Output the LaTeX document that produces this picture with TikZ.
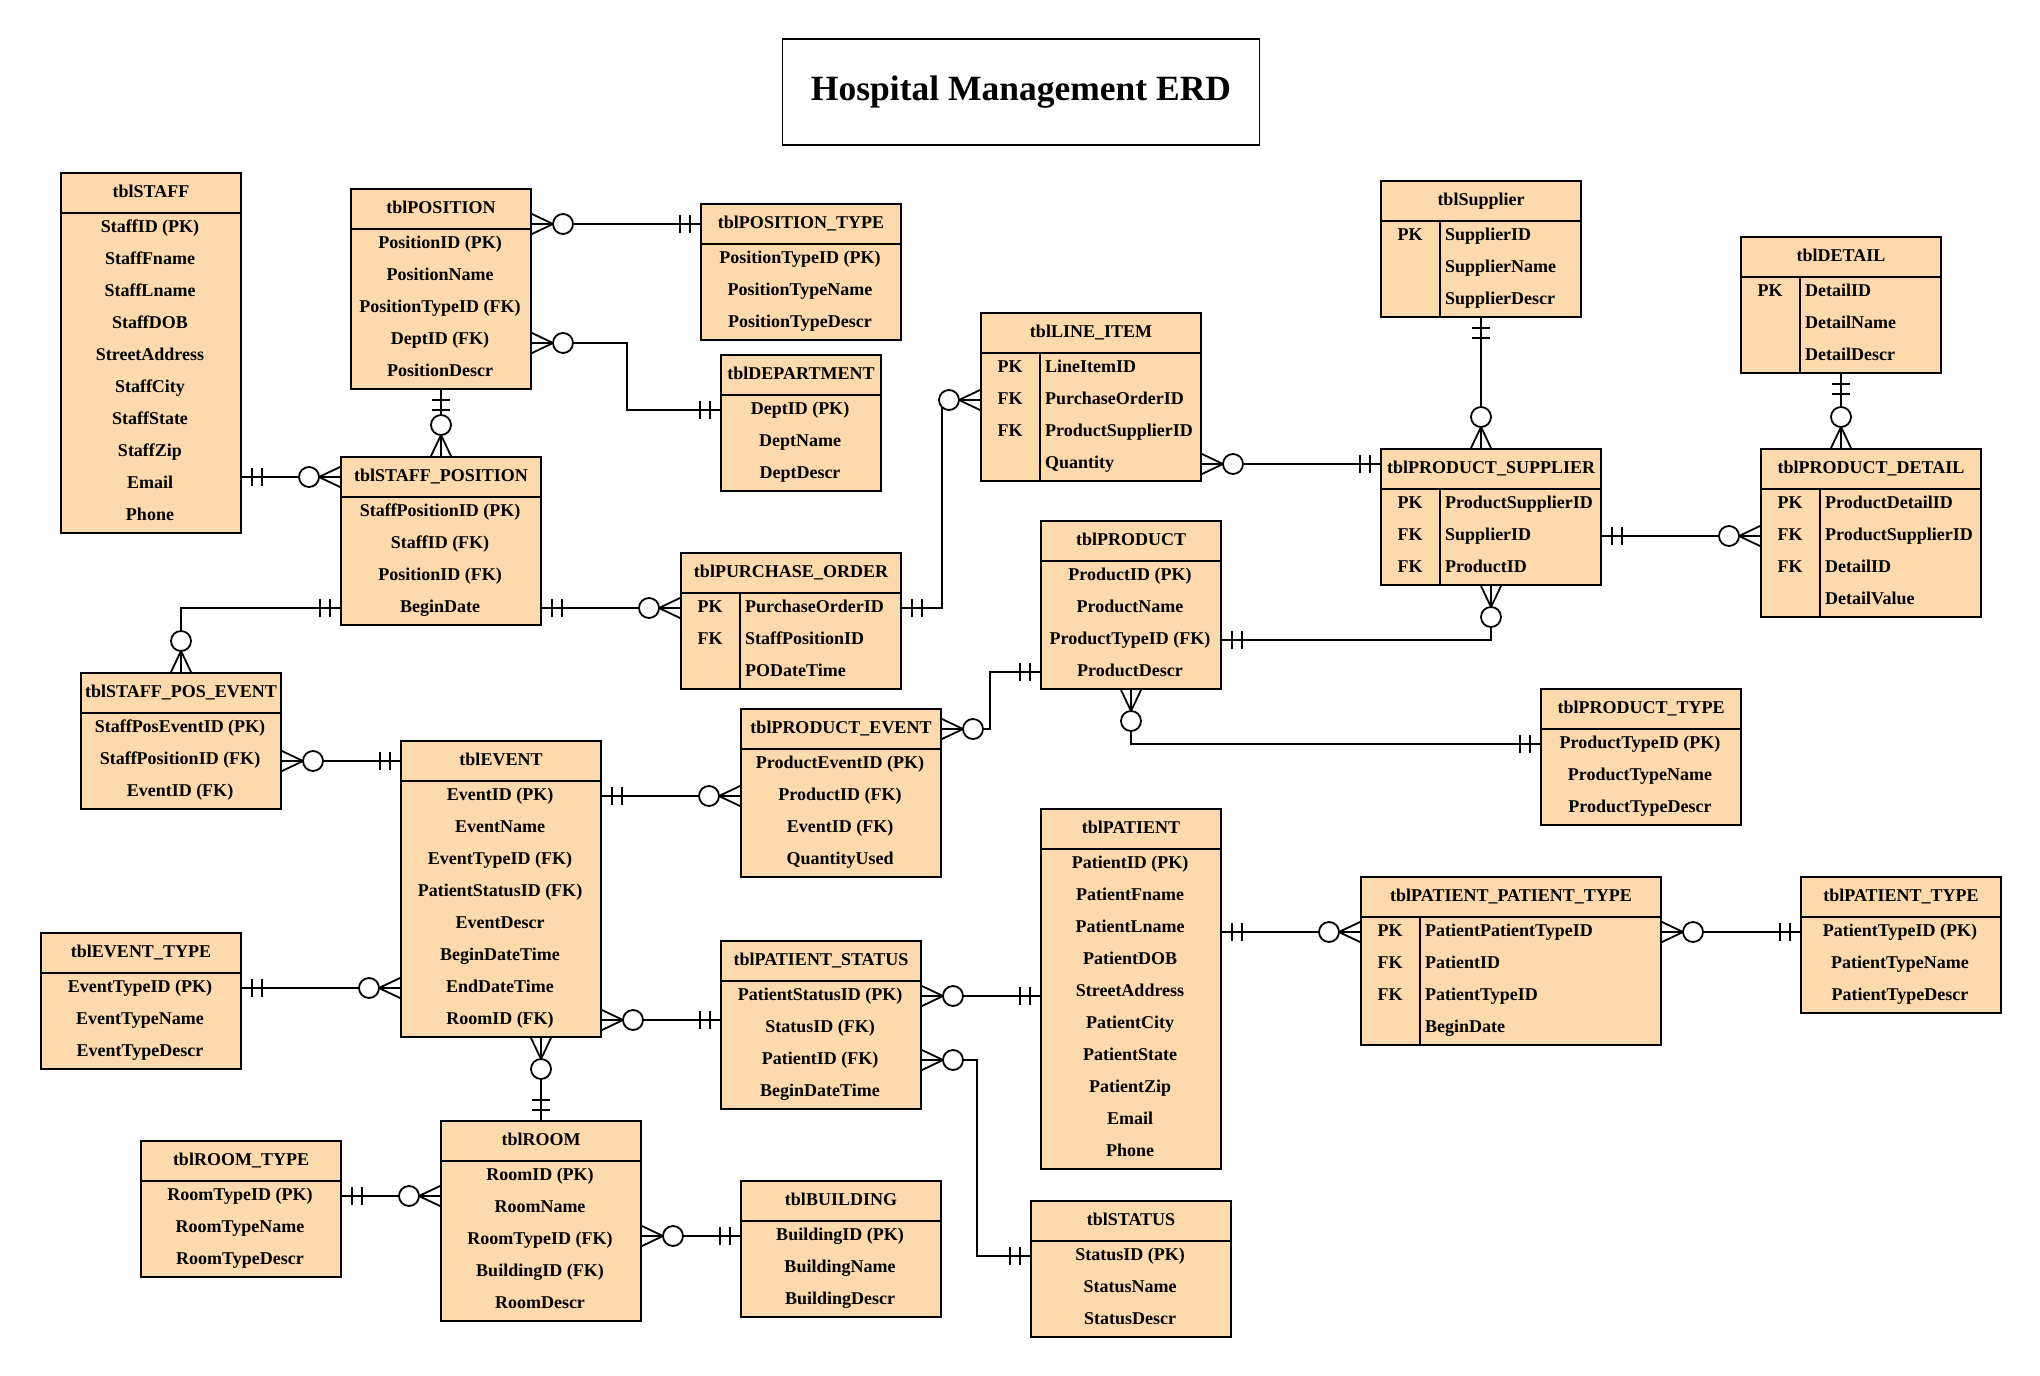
\documentclass[tikz,border=0pt]{standalone}
\usepackage{fontspec}
\setmainfont{Liberation Serif}
\usetikzlibrary{calc}
\definecolor{tblfill}{HTML}{FCDAAB}
\newcommand\tblfont{\fontsize{18}{20}\selectfont\bfseries}
\tikzset{
  tblbox/.style={draw, line width=2pt, fill=tblfill, inner sep=0pt},
  tblhead/.style={draw, line width=2pt, minimum height=40pt, inner sep=0pt, font=\tblfont, text height=13pt, text depth=4pt},
  tblrow/.style={inner sep=0pt, font=\tblfont, text height=13pt, text depth=4pt},
  conn/.style={line width=1.8pt},
  mand/.pic={\draw[conn] (10,-9) -- (10,9) (20,-9) -- (20,9);},
  zmany/.pic={\draw[conn] (0,-10) -- (21,0) -- (0,10) (0,0) -- (21,0);
              \draw[conn, fill=white] (31,0) circle[radius=10pt];}
}
% name, x, y, width, nrows, title, rows
\newcommand\tbl[7]{%
  \node[tblbox, minimum width=#4pt, minimum height={40+32*#5}, anchor=north west] (#1-box) at (#2,#3) {};
  \node[tblhead, minimum width=#4pt, anchor=north west] (#1) at (#2,#3) {#6};
  \foreach \r [count=\i] in {#7}{
    \node[tblrow] (#1-\i) at ({#2+#4/2},{#3+56+32*(\i-1)}) {\r};
  }
}
\newcommand\ktbl[7]{%
  \node[tblbox, minimum width=#4pt, minimum height={40+32*#5}, anchor=north west] (#1-box) at (#2,#3) {};
  \node[tblhead, minimum width=#4pt, anchor=north west] (#1) at (#2,#3) {#6};
  \draw[line width=2pt] ($(#1-box.north west)+(60,40)$) -- ($(#1-box.south west)+(60,0)$);
  \foreach \k/\t [count=\i] in {#7}{
    \node[tblrow] (#1-k\i) at ({#2+30},{#3+56+32*(\i-1)}) {\k};
    \node[tblrow, anchor=west] (#1-\i) at ({#2+65},{#3+56+32*(\i-1)}) {\t};
  }
}
\begin{document}
\begin{tikzpicture}[x=1pt,y=-1pt]
\fill[white] (0,0) rectangle (2040,1376);
\useasboundingbox (0,0) rectangle (2040,1376);

\node[draw, line width=1.5pt, minimum width=477pt, minimum height=106pt, inner sep=0pt,
      font=\fontsize{35.5}{40}\selectfont\bfseries] (title) at (1021,92) {Hospital Management ERD};

\tbl{staff}{60}{172}{180}{10}{tblSTAFF}{StaffID (PK),StaffFname,StaffLname,StaffDOB,StreetAddress,StaffCity,StaffState,StaffZip,Email,Phone}
\tbl{pos}{350}{188}{180}{5}{tblPOSITION}{PositionID (PK),PositionName,PositionTypeID (FK),DeptID (FK),PositionDescr}
\tbl{ptype}{700}{203}{200}{3}{tblPOSITION\_TYPE}{PositionTypeID (PK),PositionTypeName,PositionTypeDescr}
\tbl{dept}{720}{354}{160}{3}{tblDEPARTMENT}{DeptID (PK),DeptName,DeptDescr}
\ktbl{li}{980}{312}{220}{4}{tblLINE\_ITEM}{PK/LineItemID,FK/PurchaseOrderID,FK/ProductSupplierID,/Quantity}
\ktbl{sup}{1380}{180}{200}{3}{tblSupplier}{PK/SupplierID,/SupplierName,/SupplierDescr}
\ktbl{detail}{1740}{236}{200}{3}{tblDETAIL}{PK/DetailID,/DetailName,/DetailDescr}
\ktbl{ps}{1380}{448}{220}{3}{tblPRODUCT\_SUPPLIER}{PK/ProductSupplierID,FK/SupplierID,FK/ProductID}
\ktbl{pd}{1760}{448}{220}{4}{tblPRODUCT\_DETAIL}{PK/ProductDetailID,FK/ProductSupplierID,FK/DetailID,/DetailValue}
\tbl{sp}{340}{456}{200}{4}{tblSTAFF\_POSITION}{StaffPositionID (PK),StaffID (FK),PositionID (FK),BeginDate}
\ktbl{po}{680}{552}{220}{3}{tblPURCHASE\_ORDER}{PK/PurchaseOrderID,FK/StaffPositionID,/PODateTime}
\tbl{prod}{1040}{520}{180}{4}{tblPRODUCT}{ProductID (PK),ProductName,ProductTypeID (FK),ProductDescr}
\tbl{spe}{80}{672}{200}{3}{tblSTAFF\_POS\_EVENT}{StaffPosEventID (PK),StaffPositionID (FK),EventID (FK)}
\tbl{event}{400}{740}{200}{8}{tblEVENT}{EventID (PK),EventName,EventTypeID (FK),PatientStatusID (FK),EventDescr,BeginDateTime,EndDateTime,RoomID (FK)}
\tbl{pe}{740}{708}{200}{4}{tblPRODUCT\_EVENT}{ProductEventID (PK),ProductID (FK),EventID (FK),QuantityUsed}
\tbl{prodtype}{1540}{688}{200}{3}{tblPRODUCT\_TYPE}{ProductTypeID (PK),ProductTypeName,ProductTypeDescr}
\tbl{patient}{1040}{808}{180}{10}{tblPATIENT}{PatientID (PK),PatientFname,PatientLname,PatientDOB,StreetAddress,PatientCity,PatientState,PatientZip,Email,Phone}
\ktbl{ppt}{1360}{876}{300}{4}{tblPATIENT\_PATIENT\_TYPE}{PK/PatientPatientTypeID,FK/PatientID,FK/PatientTypeID,/BeginDate}
\tbl{pattype}{1800}{876}{200}{3}{tblPATIENT\_TYPE}{PatientTypeID (PK),PatientTypeName,PatientTypeDescr}
\tbl{etype}{40}{932}{200}{3}{tblEVENT\_TYPE}{EventTypeID (PK),EventTypeName,EventTypeDescr}
\tbl{pstat}{720}{940}{200}{4}{tblPATIENT\_STATUS}{PatientStatusID (PK),StatusID (FK),PatientID (FK),BeginDateTime}
\tbl{rtype}{140}{1140}{200}{3}{tblROOM\_TYPE}{RoomTypeID (PK),RoomTypeName,RoomTypeDescr}
\tbl{room}{440}{1120}{200}{5}{tblROOM}{RoomID (PK),RoomName,RoomTypeID (FK),BuildingID (FK),RoomDescr}
\tbl{bldg}{740}{1180}{200}{3}{tblBUILDING}{BuildingID (PK),BuildingName,BuildingDescr}
\tbl{status}{1030}{1200}{200}{3}{tblSTATUS}{StatusID (PK),StatusName,StatusDescr}

% connectors
\draw[conn] (pos-box.east |- ptype) -- (ptype-box.west |- ptype);
\pic at (pos-box.east |- ptype) {zmany}; \pic[rotate=180] at (ptype-box.west |- ptype) {mand};

\coordinate (posdept) at ($(pos-box.east |- pos-4)+(0,3)$);
\draw[conn] (posdept) -- ++(95,0) |- (dept-box.west |- dept-1);
\pic at (posdept) {zmany}; \pic[rotate=180] at (dept-box.west |- dept-1) {mand};

\draw[conn] (pos-box.south) -- (pos-box.south |- sp-box.north);
\pic[rotate=-90] at (pos-box.south) {mand}; \pic[rotate=90] at (pos-box.south |- sp-box.north) {zmany};

\draw[conn] (staff-box.east |- sp) -- (sp-box.west |- sp);
\pic at (staff-box.east |- sp) {mand}; \pic[rotate=180] at (sp-box.west |- sp) {zmany};

\draw[conn] (sp-box.west |- sp-4) -| (spe-box.north);
\pic[rotate=180] at (sp-box.west |- sp-4) {mand}; \pic[rotate=90] at (spe-box.north) {zmany};

\draw[conn] (sp-box.east |- po-1) -- (po-box.west |- po-1);
\pic at (sp-box.east |- po-1) {mand}; \pic[rotate=180] at (po-box.west |- po-1) {zmany};

\draw[conn] (po-box.east |- po-1) -- ++(40,0) |- (li-box.west |- li-2);
\pic at (po-box.east |- po-1) {mand}; \pic[rotate=180] at (li-box.west |- li-2) {zmany};

\draw[conn] (li-box.east |- li-4) -- (ps-box.west |- li-4);
\pic at (li-box.east |- li-4) {zmany}; \pic[rotate=180] at (ps-box.west |- li-4) {mand};

\draw[conn] (sup-box.south) -- (sup-box.south |- ps-box.north);
\pic[rotate=-90] at (sup-box.south) {mand}; \pic[rotate=90] at (sup-box.south |- ps-box.north) {zmany};

\draw[conn] (detail-box.south) -- (detail-box.south |- pd-box.north);
\pic[rotate=-90] at (detail-box.south) {mand}; \pic[rotate=90] at (detail-box.south |- pd-box.north) {zmany};

\draw[conn] (ps-box.east |- ps-2) -- (pd-box.west |- ps-2);
\pic at (ps-box.east |- ps-2) {mand}; \pic[rotate=180] at (pd-box.west |- ps-2) {zmany};

\draw[conn] (prod-box.east |- prod-3) -| (ps-box.south);
\pic at (prod-box.east |- prod-3) {mand}; \pic[rotate=-90] at (ps-box.south) {zmany};

\draw[conn] (prod-box.south) |- (prodtype-box.west |- prodtype-1);
\pic[rotate=-90] at (prod-box.south) {zmany}; \pic[rotate=180] at (prodtype-box.west |- prodtype-1) {mand};

\draw[conn] (prod-box.west |- prod-4) -- ++(-50,0) |- (pe-box.east |- pe);
\pic[rotate=180] at (prod-box.west |- prod-4) {mand}; \pic at (pe-box.east |- pe) {zmany};

\draw[conn] (event-box.east |- pe-2) -- (pe-box.west |- pe-2);
\pic at (event-box.east |- pe-2) {mand}; \pic[rotate=180] at (pe-box.west |- pe-2) {zmany};

\draw[conn] (spe-box.east |- event) -- (event-box.west |- event);
\pic at (spe-box.east |- event) {zmany}; \pic[rotate=180] at (event-box.west |- event) {mand};

\draw[conn] (etype-box.east |- etype-1) -- (event-box.west |- etype-1);
\pic at (etype-box.east |- etype-1) {mand}; \pic[rotate=180] at (event-box.west |- etype-1) {zmany};

\draw[conn] (event-box.east |- event-8) -- (pstat-box.west |- event-8);
\pic at (event-box.east |- event-8) {zmany}; \pic[rotate=180] at (pstat-box.west |- event-8) {mand};

\draw[conn] (room-box.north) -- (room-box.north |- event-box.south);
\pic[rotate=-90] at (room-box.north |- event-box.south) {zmany}; \pic[rotate=90] at (room-box.north) {mand};

\draw[conn] (rtype-box.east |- rtype-1) -- (room-box.west |- rtype-1);
\pic at (rtype-box.east |- rtype-1) {mand}; \pic[rotate=180] at (room-box.west |- rtype-1) {zmany};

\draw[conn] (room-box.east |- bldg-1) -- (bldg-box.west |- bldg-1);
\pic at (room-box.east |- bldg-1) {zmany}; \pic[rotate=180] at (bldg-box.west |- bldg-1) {mand};

\draw[conn] (pstat-box.east |- pstat-1) -- (patient-box.west |- pstat-1);
\pic at (pstat-box.east |- pstat-1) {zmany}; \pic[rotate=180] at (patient-box.west |- pstat-1) {mand};

\draw[conn] (pstat-box.east |- pstat-3) -- ++(55,0) |- (status-box.west |- status-1);
\pic at (pstat-box.east |- pstat-3) {zmany}; \pic[rotate=180] at (status-box.west |- status-1) {mand};

\draw[conn] (patient-box.east |- ppt-1) -- (ppt-box.west |- ppt-1);
\pic at (patient-box.east |- ppt-1) {mand}; \pic[rotate=180] at (ppt-box.west |- ppt-1) {zmany};

\draw[conn] (ppt-box.east |- ppt-1) -- (pattype-box.west |- ppt-1);
\pic at (ppt-box.east |- ppt-1) {zmany}; \pic[rotate=180] at (pattype-box.west |- ppt-1) {mand};
\end{tikzpicture}
\end{document}
